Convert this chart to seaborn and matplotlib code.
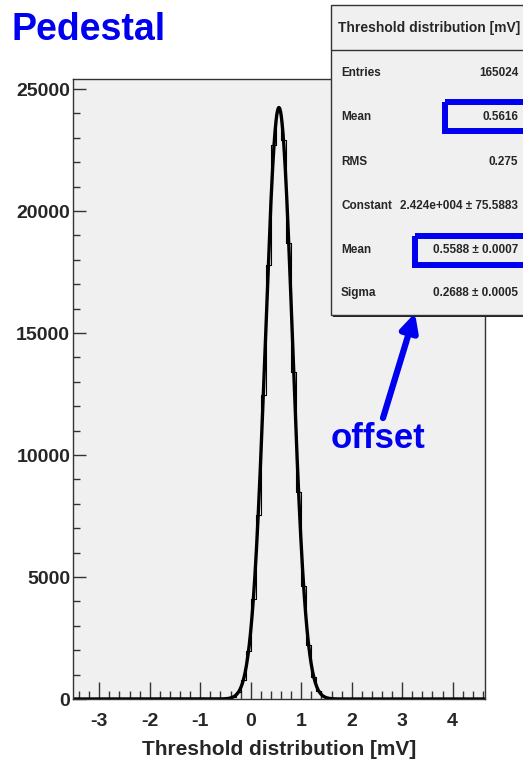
import numpy as np
import matplotlib
matplotlib.use("Agg")
import matplotlib.pyplot as plt
from matplotlib.patches import Rectangle
from matplotlib.ticker import MultipleLocator
import seaborn as sns

# histogram (bins of 0.1 mV, counts per bin)
bin_edges = [-0.6, -0.5, -0.4, -0.3, -0.2, -0.1, 0.0, 0.1, 0.2, 0.3, 0.4, 0.5,
             0.6, 0.7, 0.8, 0.9, 1.0, 1.1, 1.2, 1.3, 1.4, 1.5, 1.6, 1.7]
bin_counts = [5, 24, 85, 270, 760, 1950, 4100, 7550, 12450, 17800, 22700, 24100,
              22900, 18700, 13400, 8500, 4650, 2200, 900, 330, 105, 30, 8]

# gaussian fit parameters from the stats box
fit_constant = 24240.0
fit_mean = 0.5588
fit_sigma = 0.2688

stat_labels = ["Entries", "Mean", "RMS", "Constant", "Mean", "Sigma"]
stat_values = ["165024", "0.5616", "0.275", "2.424e+004 \u00b1 75.5883",
               "0.5588 \u00b1 0.0007", "0.2688 \u00b1 0.0005"]

x_range = (-3.52, 4.64)
y_max = 25410

sns.set_style("ticks")
plt.rcParams["font.family"] = ["Liberation Sans", "DejaVu Sans"]
plt.rcParams["font.weight"] = "bold"
plt.rcParams["axes.unicode_minus"] = False

blue = "#0000f0"
W, H = 523, 760
fig = plt.figure(figsize=(W / 100, H / 100), dpi=100)
ax = fig.add_axes([73 / W, 1 - 699 / H, 412 / W, 620 / H])
ax.set_facecolor("#f0f0f0")

centers = [(a + b) / 2 for a, b in zip(bin_edges[:-1], bin_edges[1:])]
sns.histplot(x=centers, weights=bin_counts, bins=bin_edges, element="step",
             fill=False, color="black", linewidth=0.8, ax=ax)

xs = np.linspace(x_range[0], x_range[1], 1200)
ys = fit_constant * np.exp(-0.5 * ((xs - fit_mean) / fit_sigma) ** 2)
sns.lineplot(x=xs, y=ys, color="black", linewidth=2.4, sort=False,
             estimator=None, ax=ax)

ax.set_xlim(*x_range)
ax.set_ylim(0, y_max)
ax.xaxis.set_major_locator(MultipleLocator(1))
ax.xaxis.set_minor_locator(MultipleLocator(0.2))
ax.yaxis.set_major_locator(MultipleLocator(5000))
ax.yaxis.set_minor_locator(MultipleLocator(1000))
ax.tick_params(axis="x", which="major", direction="in", length=12, width=1,
               color="#333333", labelsize=14, pad=10)
ax.tick_params(axis="x", which="minor", direction="in", length=6, width=1,
               color="#333333")
ax.tick_params(axis="y", which="major", direction="in", length=9.5, width=1,
               color="#333333", labelsize=14, pad=2)
ax.tick_params(axis="y", which="minor", direction="in", length=5, width=1,
               color="#333333")
for lab in ax.get_xticklabels() + ax.get_yticklabels():
    lab.set_fontweight("bold")
for sp in ax.spines.values():
    sp.set_visible(True)
    sp.set_color("#333333")
    sp.set_linewidth(1)
ax.set_ylabel("")
ax.set_xlabel("Threshold distribution [mV]", fontsize=15, fontweight="bold",
              labelpad=7)

# overlay in pixel coordinates for the stats box and annotations
ov = fig.add_axes([0, 0, 1, 1], zorder=10)
ov.set_xlim(0, W)
ov.set_ylim(H, 0)
ov.axis("off")
ov.patch.set_alpha(0)

ov.add_patch(Rectangle((333, 7), 200, 310, facecolor="#222222", edgecolor="none"))
ov.add_patch(Rectangle((331, 5), 200, 310, facecolor="#f0f0f0",
                       edgecolor="#333333", linewidth=1))
ov.plot([331, 531], [50, 50], color="#333333", linewidth=1)
ov.text(338, 28, "Threshold distribution [mV]", fontsize=10, fontweight="bold",
        ha="left", va="center")
row_y = [73, 117, 162, 206, 250, 293]
for lab, val, yy in zip(stat_labels, stat_values, row_y):
    ov.text(341, yy, lab, fontsize=8.5, fontweight="bold", ha="left", va="center")
    ov.text(518, yy, val, fontsize=8.5, fontweight="bold", ha="right", va="center")

ov.add_patch(Rectangle((445, 102), 100, 29, facecolor="none", edgecolor=blue,
                       linewidth=4.3))
ov.add_patch(Rectangle((415, 236), 130, 29, facecolor="none", edgecolor=blue,
                       linewidth=4.3))

ov.annotate("", xy=(415, 313), xytext=(383, 418),
            arrowprops=dict(arrowstyle="-|>", color=blue, lw=4.5,
                            mutation_scale=26, shrinkA=0, shrinkB=0))
ov.text(378, 438, "offset", color=blue, fontsize=25, fontweight="bold",
        ha="center", va="center")
ov.text(12, 30, "Pedestal", color=blue, fontsize=27, fontweight="bold",
        ha="left", va="center")

fig.savefig("out.png", dpi=100, facecolor="white")
